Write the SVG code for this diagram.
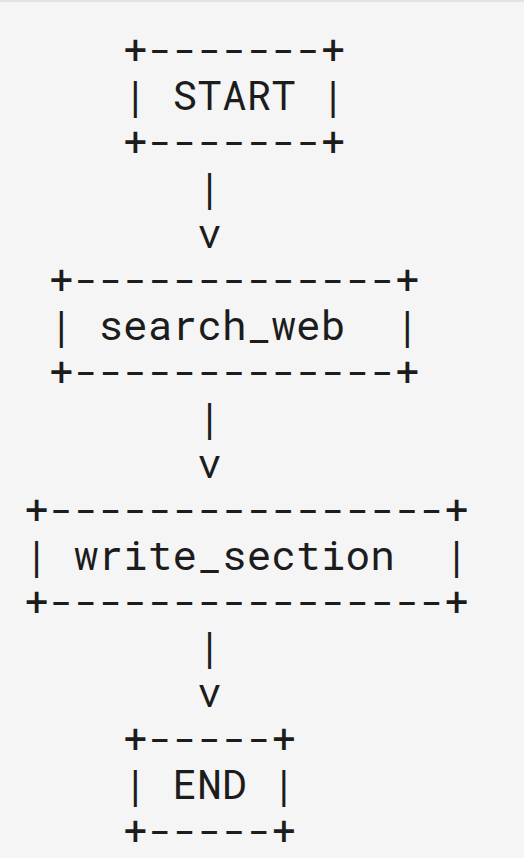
<svg xmlns="http://www.w3.org/2000/svg" width="524" height="858" viewBox="0 0 524 858">
<style>
text{font-family:"Roboto Mono","DejaVu Sans Mono","Liberation Mono",monospace;font-size:41px;fill:#1c1c1c;white-space:pre}
</style>
<rect x="0" y="0" width="524" height="858" fill="#f5f5f5"/>
<rect x="0" y="0" width="524" height="2" fill="#e3e3e3"/>
<g id="node-start">
<text x="123.1" y="64" textLength="222.3" lengthAdjust="spacing" xml:space="preserve">+-------+</text>
<text x="123.1" y="110" textLength="222.3" lengthAdjust="spacing" xml:space="preserve">| START |</text>
<text x="123.1" y="156" textLength="222.3" lengthAdjust="spacing" xml:space="preserve">+-------+</text>
</g>
<g id="node-search_web">
<text x="49" y="293.8" textLength="370.5" lengthAdjust="spacing" xml:space="preserve">+-------------+</text>
<text x="49" y="339.8" textLength="370.5" lengthAdjust="spacing" xml:space="preserve">| search_web  |</text>
<text x="49" y="385.7" textLength="370.5" lengthAdjust="spacing" xml:space="preserve">+-------------+</text>
</g>
<g id="node-write_section">
<text x="24.3" y="523.6" textLength="444.6" lengthAdjust="spacing" xml:space="preserve">+----------------+</text>
<text x="24.3" y="569.5" textLength="444.6" lengthAdjust="spacing" xml:space="preserve">| write_section  |</text>
<text x="24.3" y="615.5" textLength="444.6" lengthAdjust="spacing" xml:space="preserve">+----------------+</text>
</g>
<g id="node-end">
<text x="123.1" y="753.3" textLength="172.9" lengthAdjust="spacing" xml:space="preserve">+-----+</text>
<text x="123.1" y="799.3" textLength="172.9" lengthAdjust="spacing" xml:space="preserve">| END |</text>
<text x="123.1" y="845.2" textLength="172.9" lengthAdjust="spacing" xml:space="preserve">+-----+</text>
</g>
<g id="connectors">
<text x="197.2" y="201.9">|</text>
<text x="197.2" y="247.9">v</text>
<text x="197.2" y="431.7">|</text>
<text x="197.2" y="477.6">v</text>
<text x="197.2" y="661.4">|</text>
<text x="197.2" y="707.4">v</text>
</g>
</svg>
